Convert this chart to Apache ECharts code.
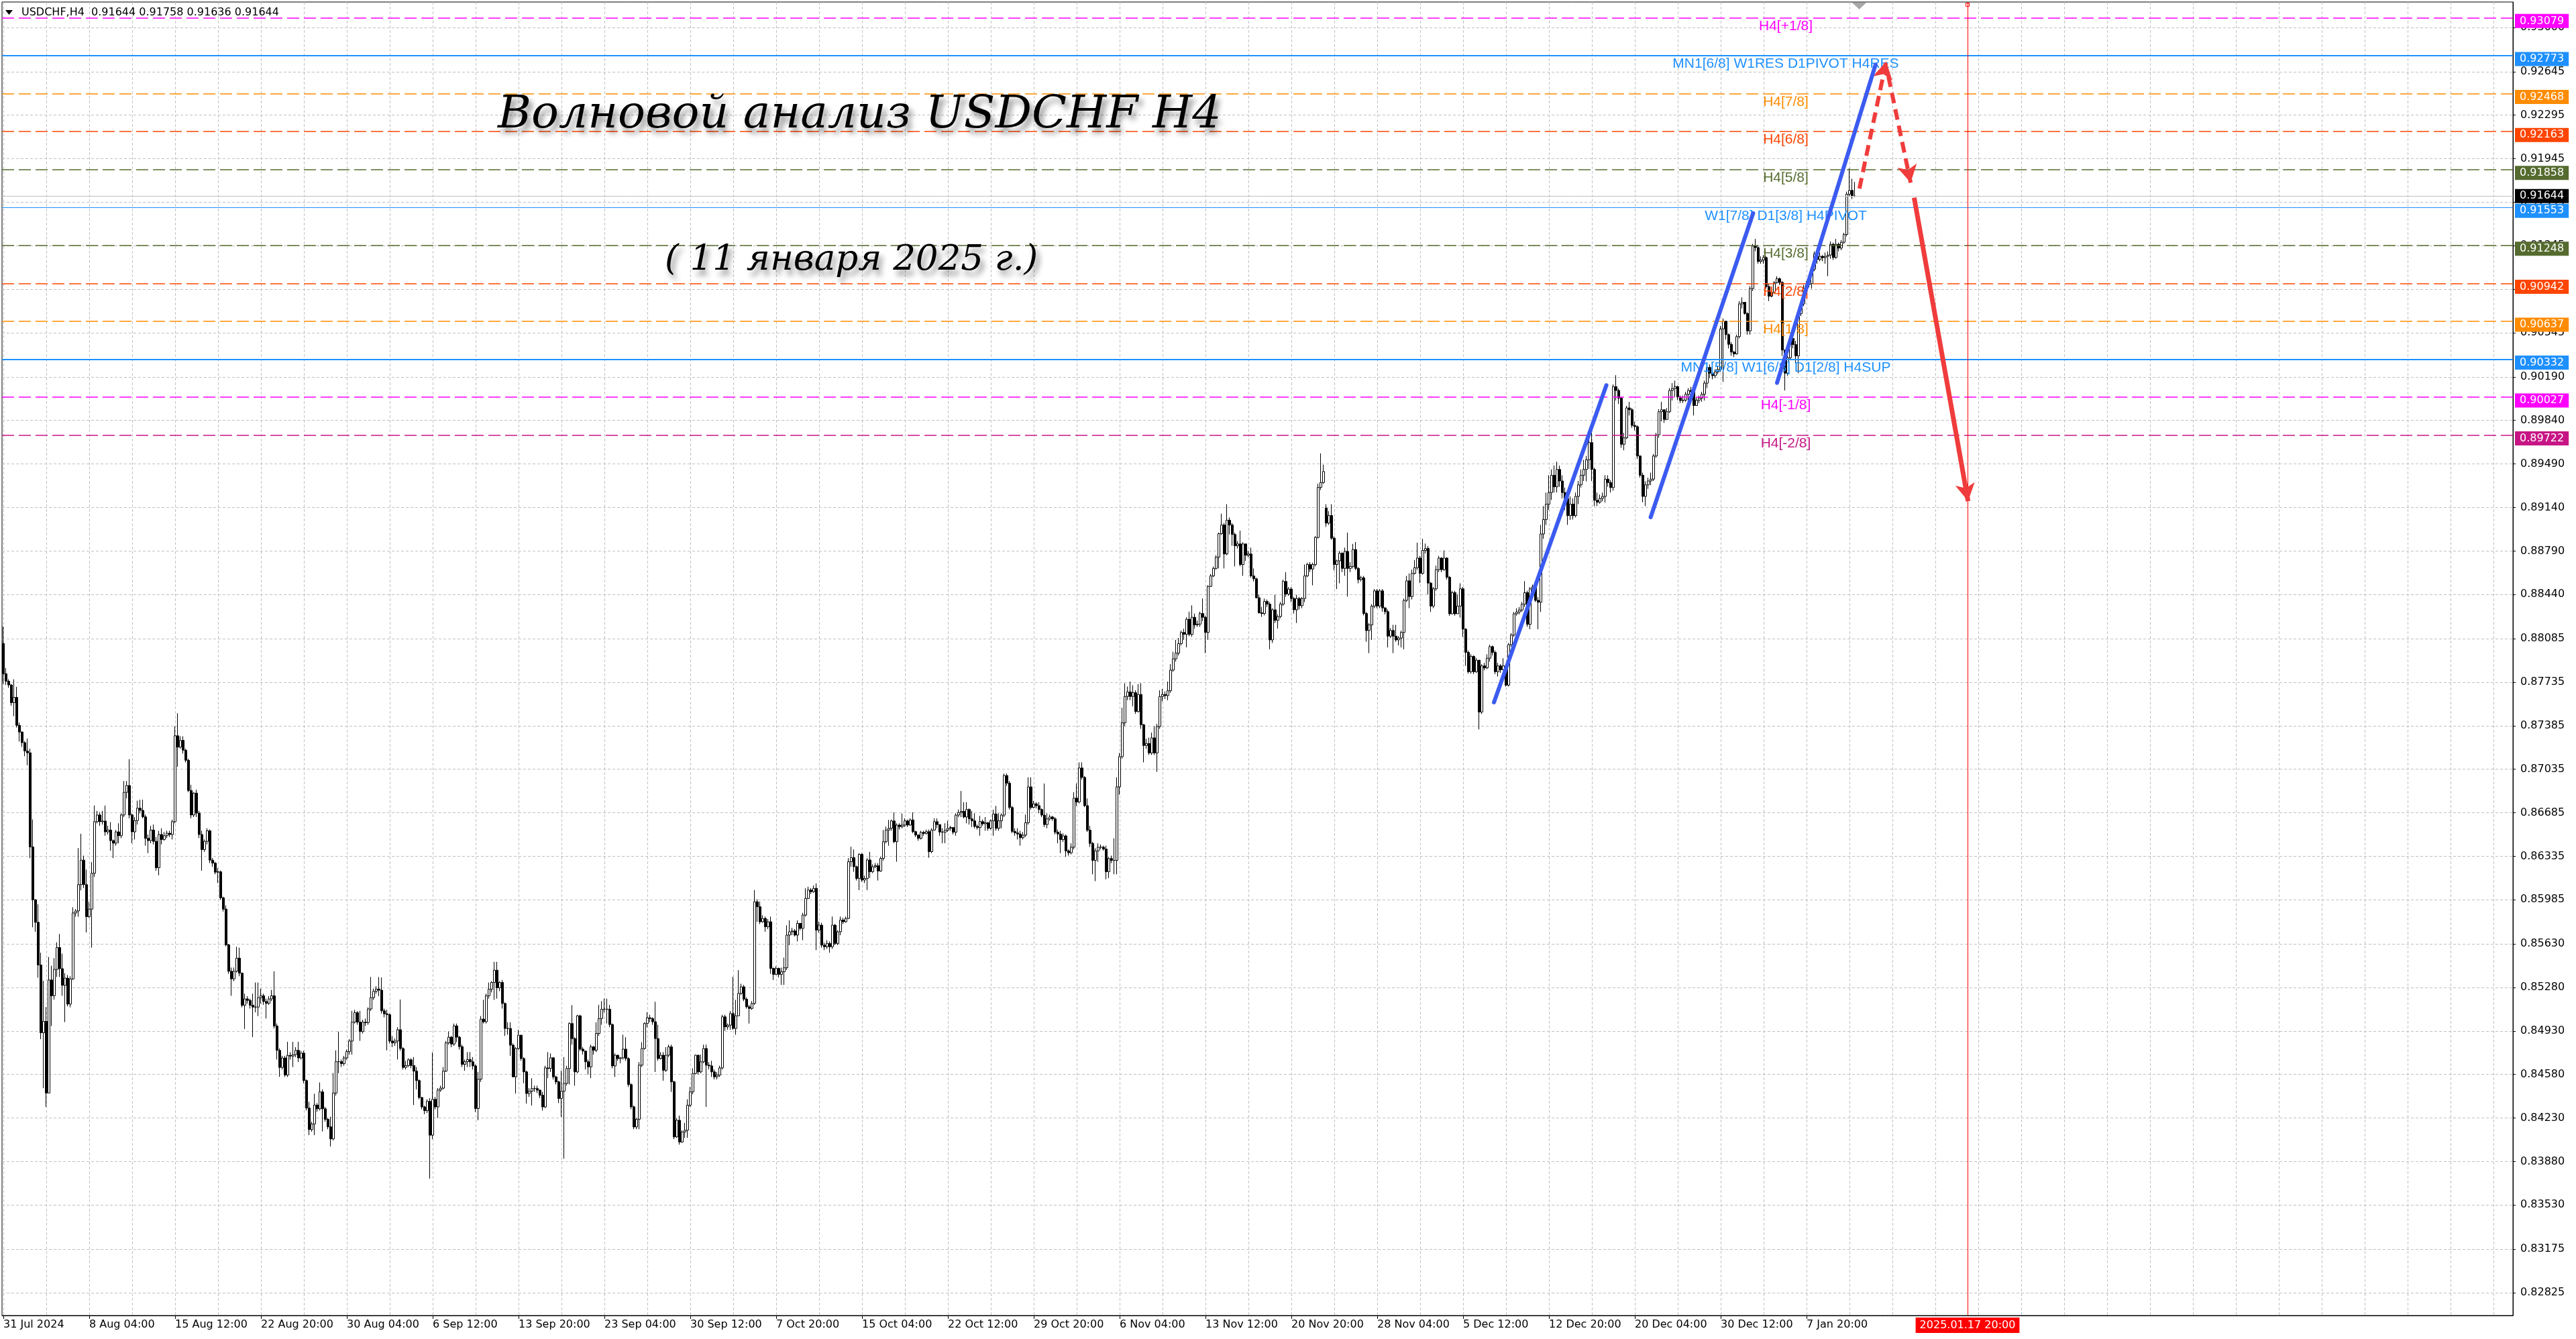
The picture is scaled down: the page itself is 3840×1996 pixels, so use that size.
<!DOCTYPE html>
<html><head><meta charset="utf-8">
<script src="https://cdn.jsdelivr.net/npm/echarts@6/dist/echarts.min.js"></script>
<style>html,body{margin:0;padding:0;background:#fff}#c{width:3840px;height:1996px}</style>
</head><body><div id="c"></div>
<script>
// ---------- DATA (prices stored as 1e-5 units above 0.80000) ----------
const symbolName = 'USDCHF,H4';
const firstOpen = 8046;
const openOverrides = {493: 9135}; // weekend gap open
const closes = [
7803,7743,7713,7570,7613,7388,7334,7249,7182,7167,6410,5985,5804,5461,4916,5007,4431,5340,5213,5425,
5601,5431,5297,5355,5146,5349,5879,5895,6107,6304,6107,5849,5910,6198,6613,6667,6613,6618,6531,6546,
6461,6440,6531,6500,6667,6849,6904,6667,6531,6622,6722,6704,6652,6479,6461,6546,6455,6243,6510,6470,
6500,6520,6510,6613,7304,7213,7267,7188,7107,6864,6667,6843,6682,6510,6389,6455,6540,6304,6280,6207,
6210,6001,5910,5622,5410,5349,5410,5516,5395,5137,5188,5176,5137,5122,5122,5198,5213,5167,5152,5188,
5213,4970,4774,4637,4713,4576,4734,4728,4740,4774,4713,4752,4531,4310,4137,4182,4334,4304,4440,4304,
4219,4159,4062,4431,4683,4683,4667,4713,4764,4849,5001,5077,5001,4925,5001,4997,5107,5198,5249,5267,
5258,5092,5068,5061,4849,4834,4849,4940,4789,4637,4652,4698,4652,4607,4531,4395,4319,4289,4364,4092,
4380,4319,4455,4470,4607,4834,4880,4825,4971,4880,4804,4661,4683,4700,
4682,4649,4306,4542,5025,5004,5213,5266,5320,5419,5277,5320,5151,4950,4950,4816,4561,4789,4896,4708,
4601,4427,4446,4467,4467,4454,4413,4319,4633,4628,4714,4561,4521,4387,4446,4508,4628,4990,4869,4601,
5052,4784,4768,4682,4641,4802,4775,4910,5030,5105,5105,5105,4982,4649,4735,4708,4714,4784,4708,4499,
4320,4158,4220,4655,4789,4990,5036,5030,5004,4869,4708,4735,4614,4735,4802,4521,4078,4212,4037,4118,
4131,4333,4440,4588,4735,4601,4682,4789,4655,4649,4601,4561,4575,4633,5044,4963,4977,5070,4950,5052,
5232,5285,5186,5124,5111,5151,5969,5929,5808,5835,5768,5808,5433,5385,5433,5385,5406,5438,5701,5728,
5734,5701,5795,5755,5862,5996,6063,6050,6077,5741,5781,5620,5607,5634,5607,5781,5634,5728,5822,5808,
5835,6291,6324,6251,6157,6350,6144,6157,6305,6211,6251,6259,6216,6318,6452,6546,6560,6619,6452,6586,
6573,6586,6619,6586,6627,6533,6506,6479,6527,6519,6533,6372,6546,6613,6590,
6530,6529,6545,6560,6566,6529,6666,6687,6696,6651,6711,6636,6620,6575,6566,6614,6596,6605,6560,6620,
6675,6560,6620,6666,6984,6923,6727,6535,6523,6514,6484,6505,6605,6893,6727,6757,6742,6711,6666,6590,
6636,6651,6636,6529,6514,6469,6499,6378,6363,6408,6802,6772,7045,6969,6742,6545,6439,6302,6378,6408,
6408,6393,6211,6317,6302,6302,6893,7136,7408,7620,7657,7620,7651,7499,7636,7393,7226,7242,7166,7287,
7166,7378,7620,7636,7627,7666,7832,7923,7969,8045,8135,8120,8241,8120,8257,8196,8202,8287,8257,8135,
8505,8590,8650,8741,8929,8999,8766,9038,8999,8923,8832,8847,8681,8847,8756,8766,8590,8566,8414,8293,
8287,8384,8363,8075,8317,8232,8263,8363,8545,8444,8484,8408,8317,8408,8350,8408,8590,8681,8645,8681,
8899,9302,9341,9429,9014,9075,8893,8681,8711,8772,8650,8787,8650,8666,8802,8650,8560,8575,8287,8150,
8196,8347,8469,8347,8469,8332,8302,8105,8151,8105,8075,8090,8135,8393,
8550,8424,8610,8656,8733,8610,8795,8810,8532,8347,8486,8640,8733,8640,8733,8579,8285,8455,8285,8347,
8486,8161,7975,7819,7943,7819,7912,7495,7866,7850,7928,8021,7975,7819,7866,7835,7866,7711,8037,8114,
8285,8300,8316,8362,8455,8200,8486,8502,8393,8378,8927,9043,9167,9260,9399,9306,9446,9353,9260,9213,
9074,9167,9074,9229,9322,9399,9446,9523,9662,9446,9198,9182,9213,9229,9368,9340,9300,10112,10081,10019,
9648,9700,9941,9926,9800,9790,9554,9399,9229,9322,9353,9368,9554,9724,9910,9926,9848,9910,10081,10096,
10112,10029,10000,10003,10050,10081,10070,9960,10003,10020,10050,10140,10266,10220,10200,10230,10250,10576,10638,10530,
10452,10390,10375,10514,10777,10790,10700,10560,10901,11242,11230,11118,11130,11150,10917,10839,10870,10948,10980,10950,
10406,10220,10344,10499,10450,10359,10700,10777,10901,10932,10940,11056,11180,11134,11160,11149,11160,11170,11257,11150,
11257,11226,11273,11335,11660,11690,11644,11644
];
const highs = [
8182,7849,7758,7720,7758,7697,7410,7340,7260,7282,7200,6631,5990,5949,5560,5334,5122,5525,5455,5516,
5643,5710,5552,5395,5380,5370,5925,5910,6401,6516,6340,6228,5970,6288,6743,6700,6690,6700,6743,6580,
6610,6470,6546,6600,6680,6940,6940,7116,6680,6650,6782,6790,6790,6670,6510,6580,6590,6490,6540,6560,
6530,6540,6540,6630,7380,7485,7300,7300,7200,7120,6910,6850,6870,6700,6540,6470,6560,6550,6320,6290,
6240,6220,6010,5940,5630,5440,5440,5607,5600,5400,5230,5210,5190,5230,5320,5320,5270,5230,5190,5210,
5260,5410,4990,4790,4730,4730,4843,4760,4843,4800,4843,4770,4770,4540,4360,4200,4425,4350,4516,4460,
4320,4230,4240,4592,4774,4925,4700,4730,4780,4865,5092,5100,5090,5092,5020,5030,5120,5364,5270,5290,
5364,5360,5110,5100,5070,4890,4870,4960,5183,4800,4690,4710,4710,4720,4640,4540,4400,4330,4380,4390,
4758,4400,4470,4490,4640,4850,4925,4890,4990,4990,4890,4820,4700,4760,
4760,4720,4660,4600,5050,5180,5230,5320,5330,5486,5486,5330,5340,5160,5000,5000,4830,4800,4940,4900,
4720,4610,4470,4550,4490,4490,4460,4440,4650,4760,4750,4720,4570,4530,4610,4720,4650,5000,5138,4880,
5060,5060,4800,4770,4700,4820,4810,5000,5140,5170,5190,5190,5140,4990,4750,4740,4720,4900,4880,4720,
4510,4330,4230,4680,4840,5000,5080,5060,5040,5165,4980,4760,4760,4800,4820,4820,4530,4230,4250,4130,
4190,4380,4480,4630,4740,4740,4740,4820,4820,4680,4690,4620,4600,4650,5060,5060,4990,5090,5366,5180,
5419,5310,5300,5200,5140,5170,6063,5990,5970,5860,5850,5830,5850,5440,5450,5440,5440,5520,5780,5820,
5760,5750,5820,5800,5880,6077,6090,6080,6100,6117,5810,5800,5640,5660,5650,5850,5790,5740,5850,5840,
5850,6320,6412,6390,6260,6360,6360,6180,6320,6370,6270,6280,6280,6330,6546,6573,6627,6630,6688,6600,
6600,6680,6640,6630,6640,6688,6540,6510,6540,6540,6550,6550,6560,6640,6640,
6590,6560,6600,6620,6580,6570,6680,6710,6860,6770,6770,6720,6700,6680,6590,6660,6630,6650,6610,6630,
6710,6740,6680,6680,7000,7000,6940,6740,6560,6560,6540,6530,6670,6970,6970,6780,6770,6770,6720,6920,
6680,6670,6660,6650,6550,6540,6520,6510,6390,6440,6850,6920,7090,7090,6980,6800,6580,6450,6400,6440,
6430,6420,6420,6330,6340,6480,6970,7166,7530,7727,7700,7740,7710,7670,7720,7727,7400,7280,7290,7330,
7380,7400,7670,7680,7660,7740,7880,7980,8075,8090,8150,8165,8257,8302,8353,8287,8230,8302,8408,8270,
8515,8605,8665,8756,8938,9090,9014,9166,9060,9014,8938,8870,8954,8860,8800,8790,8817,8650,8575,8440,
8340,8408,8400,8378,8330,8438,8280,8380,8560,8620,8500,8500,8420,8438,8420,8420,8681,8696,8700,8696,
8910,9332,9575,9484,9166,9110,9166,8908,8720,8790,8780,8817,8938,8700,8847,8862,8660,8590,8590,8300,
8211,8362,8484,8484,8484,8484,8340,8320,8170,8196,8196,8105,8150,8408,
8590,8610,8640,8718,8857,8750,8888,8850,8830,8540,8500,8672,8750,8740,8795,8740,8590,8470,8470,8440,
8530,8500,8170,7990,7960,7950,7930,7912,7880,7890,7960,8037,8030,7990,7890,7880,7928,7880,8050,8130,
8300,8330,8340,8380,8548,8470,8500,8520,8520,8420,9000,9151,9260,9400,9446,9477,9508,9477,9399,9300,
9244,9229,9213,9260,9353,9446,9523,9554,9740,9740,9460,9260,9244,9260,9400,9399,9360,10130,10204,10096,
10030,9740,9957,9990,9940,9830,9800,9560,9420,9350,9380,9420,9570,9740,9930,9990,9926,9940,10100,10140,
10160,10120,10040,10040,10070,10100,10110,10080,10030,10040,10070,10160,10280,10290,10240,10250,10280,10600,10660,10640,
10540,10470,10400,10530,10800,10830,10790,10710,10920,11260,11300,11250,11160,11170,11160,10940,10890,10960,11000,10990,
10960,10410,10380,10520,10520,10480,10720,10800,10930,10960,10970,11080,11200,11190,11190,11170,11190,11200,11280,11270,
11300,11270,11290,11350,11680,11867,11784,11758
];
const lows = [
7722,7713,7690,7546,7461,7370,7258,7213,7140,7067,6319,5764,5728,5358,4864,4470,4320,4431,4970,5182,
5364,5364,5213,5001,5128,5120,5340,5849,5849,6061,6080,5722,5840,5600,6170,6600,6580,6590,6500,6510,
6380,6320,6420,6440,6480,6650,6800,6640,6440,6470,6590,6680,6640,6420,6360,6440,6430,6219,6182,6430,
6460,6480,6490,6470,6600,7055,7200,7160,7090,6850,6640,6650,6650,6480,6219,6370,6430,6280,6250,6190,
6120,5985,5890,5610,5390,5213,5330,5400,5370,5120,4946,5150,5110,4880,5080,5050,5150,5140,5030,5140,
5170,4950,4700,4561,4620,4561,4560,4700,4640,4720,4680,4700,4510,4290,4092,4120,4092,4280,4290,4122,
4200,4140,4001,4050,4410,4590,4640,4650,4700,4740,4740,4990,4980,4850,4910,4970,4980,5090,5180,5230,
5210,5070,5040,4774,4830,4800,4810,4700,4770,4620,4620,4640,4630,4334,4460,4380,4300,4260,4270,3743,
4060,4300,4230,4440,4460,4600,4820,4800,4810,4840,4780,4640,4610,4640,
4640,4620,4279,4212,4520,4990,4990,5190,5240,5180,5190,5250,5110,4890,4900,4730,4560,4427,4780,4690,
4510,4346,4400,4330,4440,4430,4390,4290,4310,4550,4600,4540,4500,4350,4239,3903,4490,4500,4820,4490,
4590,4770,4740,4620,4580,4550,4740,4760,4890,4980,5080,4990,4960,4630,4560,4690,4670,4700,4690,4480,
4300,4140,4140,4140,4640,4780,4960,5000,4980,4600,4690,4700,4530,4600,4720,4440,4060,4070,4016,4030,
4070,4070,4320,4420,4580,4580,4590,4670,4319,4620,4560,4540,4540,4560,4620,4930,4940,4940,4940,4900,
5050,5220,5170,5110,4990,5100,5140,5808,5790,5800,5728,5750,5390,5340,5380,5360,5300,5300,5420,5620,
5700,5690,5650,5740,5660,5850,5990,6030,6040,5580,5720,5600,5580,5590,5560,5590,5620,5620,5700,5790,
5800,5830,6250,6210,6140,6063,6130,6120,6063,6160,6200,6240,6140,6210,6300,6440,6420,6540,6440,6291,
6550,6560,6570,6570,6580,6520,6490,6460,6470,6500,6510,6323,6360,6540,6560,
6500,6440,6440,6530,6540,6510,6500,6650,6650,6640,6600,6590,6570,6560,6550,6500,6580,6540,6540,6550,
6500,6540,6540,6560,6650,6900,6710,6520,6500,6470,6420,6470,6490,6590,6710,6720,6720,6680,6650,6570,
6560,6620,6620,6510,6440,6360,6450,6330,6340,6350,6390,6740,6760,6950,6730,6530,6410,6190,6135,6290,
6390,6380,6150,6160,6280,6190,6190,6830,7120,7380,7590,7590,7540,7480,7490,7360,7090,7200,7150,7150,
7150,7014,7360,7580,7600,7590,7650,7820,7900,7950,8030,8075,8015,8105,8100,8165,8180,8180,8226,7969,
8075,8500,8580,8640,8650,8920,8650,8756,8923,8832,8666,8810,8666,8590,8711,8740,8575,8545,8408,8287,
8260,8272,8340,8000,8050,8211,8166,8250,8348,8420,8430,8378,8287,8211,8320,8330,8378,8580,8620,8514,
8666,8890,9280,9330,8984,9000,8880,8635,8484,8530,8620,8590,8423,8620,8650,8635,8530,8545,8272,8060,
7969,8075,8330,8330,8330,8302,8280,8014,8090,7969,8060,8030,8014,7999,
8380,8330,8400,8600,8640,8532,8600,8770,8440,8300,8330,8470,8620,8620,8630,8560,8269,8280,8270,8330,
8254,8099,7866,7804,7804,7800,7810,7355,7480,7830,7840,7900,7950,7800,7780,7810,7830,7700,7700,8020,
8100,8270,8280,8300,8340,8180,8161,8470,8380,8161,8300,8888,9000,9120,9200,9260,9260,9306,9213,9120,
9000,9040,9043,9060,9167,9300,9353,9350,9450,9353,9150,9151,9170,9190,9180,9306,9260,9275,10000,9972,
9620,9600,9690,9880,9780,9760,9530,9380,9182,9151,9290,9320,9353,9540,9700,9833,9820,9848,9900,10000,
10030,10003,9980,9980,9990,10000,10050,9880,9960,9980,9990,10000,10100,10180,10170,10180,10210,10230,10150,10490,
10420,10360,10350,10370,10500,10740,10690,10530,10530,10880,11200,11100,11100,11100,10900,10800,10830,10860,10940,10930,
10359,10081,10200,10330,10420,10300,10220,10680,10760,10890,10910,10900,11040,11100,11120,11120,11100,11000,11140,11130,
11140,11200,11210,11260,11320,11640,11620,11636
];

const xTickBars = [0,32,64,96,128,160,192,224,256,288,320,352,384,416,448,480,512,544,576,608,640,672];
const xTickLabels = ['31 Jul 2024','8 Aug 04:00','15 Aug 12:00','22 Aug 20:00','30 Aug 04:00','6 Sep 12:00',
  '13 Sep 20:00','23 Sep 04:00','30 Sep 12:00','7 Oct 20:00','15 Oct 04:00','22 Oct 12:00','29 Oct 20:00',
  '6 Nov 04:00','13 Nov 12:00','20 Nov 20:00','28 Nov 04:00','5 Dec 12:00','12 Dec 20:00','20 Dec 04:00',
  '30 Dec 12:00','7 Jan 20:00'];
const yTicks = [0.93000,0.92645,0.92295,0.91945,0.91595,0.91245,0.90895,0.90545,0.90190,0.89840,0.89490,
  0.89140,0.88790,0.88440,0.88085,0.87735,0.87385,0.87035,0.86685,0.86335,0.85985,0.85630,0.85280,0.84930,
  0.84580,0.84230,0.83880,0.83530,0.83175,0.82825];

const levelPrices = [0.93079,0.92773,0.92468,0.92163,0.91858,0.91553,0.91248,0.90942,0.90637,0.90332,0.90027,0.89722];
const levelNames = ['H4[+1/8]','MN1[6/8] W1RES D1PIVOT H4RES','H4[7/8]','H4[6/8]','H4[5/8]','W1[7/8] D1[3/8] H4PIVOT',
  'H4[3/8]','H4[2/8]','H4[1/8]','MN1[5/8] W1[6/8] D1[2/8] H4SUP','H4[-1/8]','H4[-2/8]'];
const levelLabelBar = 664.25;
const markerBar = 732;              // 2025.01.17 20:00 (future time)
const markerLabel = '2025.01.17 20:00';
// hand-drawn annotations, [bar, price]
const trendLines = [
  [[555.5,0.87573],[597.4,0.90123]],
  [[613.9,0.89062],[652.1,0.91507]],
  [[661.0,0.90143],[697.7,0.92700]]
];
const dashedArrows = [
  [[691.7,0.91705],[701.7,0.92728]],
  [[702.5,0.92607],[710.8,0.91752]]
];
const solidArrows = [
  [[712.1,0.91632],[732.2,0.89191]]
];

// ---------- STYLES ----------
const levelStyle = [
  {c:'#FF00FF',w:1.5,s:false},{c:'#1E90FF',w:2,s:true},{c:'#FF8C00',w:1.5,s:false},{c:'#FF4500',w:1.5,s:false},
  {c:'#556B2F',w:1.5,s:false},{c:'#1E90FF',w:1.2,s:true},{c:'#556B2F',w:1.5,s:false},{c:'#FF4500',w:1.5,s:false},
  {c:'#FF8C00',w:1.5,s:false},{c:'#1E90FF',w:2,s:true},{c:'#FF00FF',w:1.5,s:false},{c:'#C71585',w:1.5,s:false}
];
const AXF = 'DejaVu Sans';

// ---------- BUILD ----------
const toP = v => +(0.8 + v * 1e-5).toFixed(5);
const candles = closes.map((c, i) => {
  const o = i === 0 ? firstOpen : (openOverrides[i] !== undefined ? openOverrides[i] : closes[i - 1]);
  const h = Math.max(highs[i], o, c), l = Math.min(lows[i], o, c);
  return [i, toP(o), toP(c), toP(l), toP(h)];
});
const last = candles[candles.length - 1];
const lastClose = last[2];
const gridBars = [];
for (let b = 0; b <= 935; b += 16) gridBars.push(b);

const levelLines = levelPrices.map((p, i) => ({
  yAxis: p,
  lineStyle: {color: levelStyle[i].c, width: levelStyle[i].w, type: levelStyle[i].s ? 'solid' : [18, 7], opacity: 1},
  label: {show: true, position: 'end', distance: 3, formatter: p.toFixed(5), color: '#fff',
    backgroundColor: levelStyle[i].c, padding: [3, 7, 2, 7], fontFamily: AXF, fontSize: 16, offset: [0, 5]}
}));
levelLines.push({
  yAxis: lastClose,
  lineStyle: {color: '#C0C0C0', width: 1, type: 'solid', opacity: 1},
  label: {show: true, position: 'end', distance: 3, formatter: lastClose.toFixed(5), color: '#fff',
    backgroundColor: '#000', padding: [3, 7, 2, 7], fontFamily: AXF, fontSize: 16}
});
levelLines.push({
  xAxis: markerBar,
  lineStyle: {color: '#FF0000', width: 1, type: 'solid', opacity: 1},
  label: {show: true, position: 'start', distance: 3, formatter: markerLabel, color: '#fff',
    backgroundColor: '#FF0000', padding: [4, 6, 3, 6], fontFamily: AXF, fontSize: 16}
});

const levelTexts = levelPrices.map((p, i) => ({
  name: levelNames[i], value: [levelLabelBar, p],
  label: {show: true, color: levelStyle[i].c, opacity: 1, textBorderWidth: 0, position: 'bottom', distance: 1,
    fontFamily: 'Liberation Sans', fontSize: 21, formatter: levelNames[i]}
}));

const series = [
  {
    type: 'candlestick', xAxisIndex: 0, yAxisIndex: 0, data: candles,
    encode: {x: 0, y: [1, 2, 3, 4]}, barWidth: 3, large: false, z: 2,
    itemStyle: {color: '#ffffff', color0: '#000000', borderColor: '#000000', borderColor0: '#000000', borderWidth: 1}
  },
  {
    type: 'line', data: [], z: 3, silent: true,
    markLine: {silent: true, animation: false, symbol: ['none', 'none'], precision: 5, data: levelLines}
  },
  {
    type: 'scatter', data: levelTexts, symbol: 'circle', symbolSize: 2, z: 4, silent: true, clip: false,
    itemStyle: {color: '#ffffff', opacity: 1, borderWidth: 0},
    labelLayout: {hideOverlap: false},
    label: {show: true, position: 'bottom', distance: 1, fontFamily: 'Liberation Sans', fontSize: 21, opacity: 1}
  }
];
trendLines.forEach(seg => series.push({
  type: 'line', data: seg, showSymbol: false, symbol: 'none', z: 5, silent: true,
  lineStyle: {color: '#3B5BF0', width: 6, cap: 'round'}
}));
series.push({
  type: 'line', data: [], z: 6, silent: true,
  markLine: {silent: true, animation: false, symbol: ['none', 'arrow'], symbolSize: [22, 26],
    lineStyle: {color: '#F03C3C', width: 6, type: [16, 9], opacity: 1}, label: {show: false},
    data: dashedArrows.map(a => [{coord: a[0]}, {coord: a[1]}])}
});
series.push({
  type: 'line', data: [], z: 6, silent: true,
  markLine: {silent: true, animation: false, symbol: ['none', 'arrow'], symbolSize: [22, 26],
    lineStyle: {color: '#F03C3C', width: 7, type: 'solid', opacity: 1}, label: {show: false},
    data: solidArrows.map(a => [{coord: a[0]}, {coord: a[1]}])}
});

const headerText = symbolName + '  ' + [last[1], last[4], last[3], last[2]].map(v => v.toFixed(5)).join(' ');
const shadow = {shadowColor: 'rgba(0,0,0,0.45)', shadowBlur: 8, shadowOffsetX: 5, shadowOffsetY: 8,
  textShadowColor: 'rgba(0,0,0,0.45)', textShadowBlur: 8, textShadowOffsetX: 5, textShadowOffsetY: 8};

const option = {
  animation: false,
  backgroundColor: '#ffffff',
  grid: {left: 3, top: 3, width: 3743, height: 1958, show: true, borderColor: '#000', borderWidth: 1, backgroundColor: '#fff'},
  xAxis: [
    {
      type: 'value', min: -0.5, max: 935.25, position: 'bottom',
      axisLine: {show: true, onZero: false, lineStyle: {color: '#000', width: 1}},
      axisTick: {show: true, customValues: xTickBars, length: 5, lineStyle: {color: '#000'}},
      axisLabel: {customValues: xTickBars, formatter: v => xTickLabels[Math.round(v / 32)] || '', align: 'left',
        margin: 6, fontFamily: AXF, fontSize: 16, color: '#000'},
      splitLine: {show: false}
    },
    {
      type: 'value', min: -0.5, max: 935.25, position: 'bottom',
      axisLine: {show: false}, axisLabel: {show: false},
      axisTick: {show: false, customValues: gridBars},
      splitLine: {show: true, lineStyle: {color: '#C0C0C0', width: 1, type: [4, 3]}}
    }
  ],
  yAxis: {
    type: 'value', position: 'right', min: 0.826416, max: 0.93205,
    axisLine: {show: true, onZero: false, lineStyle: {color: '#000', width: 1}},
    axisTick: {show: true, customValues: yTicks, length: 4, lineStyle: {color: '#000'}},
    axisLabel: {customValues: yTicks, formatter: v => v.toFixed(5), margin: 11, fontFamily: AXF, fontSize: 16, color: '#000'},
    splitLine: {show: true, lineStyle: {color: '#C0C0C0', width: 1, type: [4, 3]}}
  },
  graphic: [
    {type: 'polygon', z: 100, shape: {points: [[8, 15], [19, 15], [13.5, 22]]}, style: {fill: '#000'}},
    {type: 'text', z: 100, x: 32, y: 19, style: {text: headerText, font: '16px "DejaVu Sans"', fill: '#000', textVerticalAlign: 'middle'}},
    {type: 'polygon', z: 100, shape: {points: [[2761, 4], [2782, 4], [2771.5, 14]]}, style: {fill: '#A8A8A8'}},
    {type: 'rect', z: 100, shape: {x: 2930.5, y: 4.5, width: 5, height: 5}, style: {fill: 'none', stroke: '#FF0000', lineWidth: 1}},
    {type: 'text', z: 100, x: 742, y: 172, style: Object.assign({text: 'Волновой анализ USDCHF H4',
      font: 'italic 68px "DejaVu Serif"', fill: '#000', textVerticalAlign: 'middle'}, shadow)},
    {type: 'text', z: 100, x: 991, y: 388, style: Object.assign({text: '( 11 января 2025 г.)',
      font: 'italic 53px "DejaVu Serif"', fill: '#000', textVerticalAlign: 'middle'}, shadow)}
  ],
  series: series
};

const chart = echarts.init(document.getElementById('c'), null, {renderer: 'canvas', width: 3840, height: 1996});
chart.setOption(option);
</script></body></html>
